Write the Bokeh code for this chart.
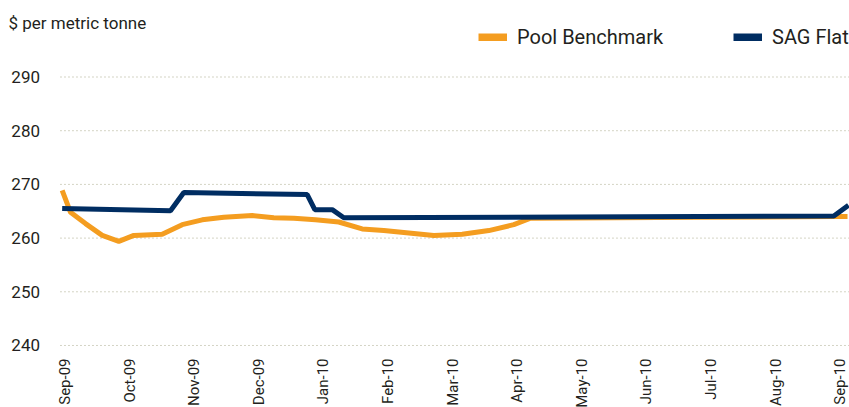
import math
from bokeh.plotting import figure
from bokeh.models import Label, Legend, LegendItem
from bokeh.embed import file_html
from bokeh.resources import INLINE

# ---- data (x = months since Sep-09) ----
month_labels = ["Sep-09", "Oct-09", "Nov-09", "Dec-09", "Jan-10", "Feb-10", "Mar-10",
                "Apr-10", "May-10", "Jun-10", "Jul-10", "Aug-10", "Sep-10"]
month_pos = list(range(len(month_labels)))
y_ticks = [240, 250, 260, 270, 280, 290]

pool_x = [-0.067, 0.062, 0.294, 0.553, 0.810, 1.042, 1.481, 1.791, 2.101, 2.435, 2.875,
          3.209, 3.519, 3.854, 4.215, 4.577, 4.912, 5.686, 6.125, 6.537, 6.924, 7.183,
          9.814, 11.904, 12.09]
pool_y = [268.9, 264.8, 262.7, 260.5, 259.4, 260.5, 260.7, 262.5, 263.4, 263.9, 264.2,
          263.8, 263.7, 263.4, 263.0, 261.7, 261.4, 260.5, 260.7, 261.4, 262.5, 263.7,
          263.9, 264.0, 264.0]

sag_x = [-0.067, 1.610, 1.816, 3.726, 3.844, 4.113, 4.293, 11.878, 12.105]
sag_y = [265.5, 265.1, 268.5, 268.1, 265.3, 265.3, 263.8, 264.1, 266.1]

ORANGE = "#F49D20"
NAVY = "#002D62"
TEXT = "#231F20"
GRID = "#A9A98A"
FONT = "Roboto"

X_START, X_END = -1.0217, 12.1207
Y_START, Y_END = 228.45, 304.25
GRID_X0 = -0.093          # where the dotted grid lines begin

p = figure(width=849, height=407, output_backend="svg", toolbar_location=None,
           x_range=(X_START, X_END), y_range=(Y_START, Y_END),
           min_border=0)
p.outline_line_color = None
p.background_fill_color = "white"
p.border_fill_color = "white"
p.xaxis.visible = False
p.yaxis.visible = False
p.xgrid.grid_line_color = None
p.ygrid.grid_line_color = None

# dotted horizontal grid lines at the tick values
p.segment(x0=[GRID_X0] * len(y_ticks), x1=[X_END] * len(y_ticks), y0=y_ticks, y1=y_ticks,
          line_color=GRID, line_dash="1 3", line_width=1)

# y tick labels
p.text(x=[X_START] * len(y_ticks), y=y_ticks, text=[str(t) for t in y_ticks],
       x_offset=39.5, text_align="right", text_baseline="middle",
       text_font={"value": FONT}, text_font_size={"value": "17px"}, text_color=TEXT)

# x tick labels (rotated, reading upwards, hanging below the 240 line)
p.text(x=month_pos, y=[y_ticks[0]] * len(month_pos), text=month_labels,
       angle=math.pi / 2, x_offset=-1.5, y_offset=13, text_align="right",
       text_baseline="middle",
       text_font={"value": FONT}, text_font_size={"value": "15px"}, text_color=TEXT)

r_pool = p.line(pool_x, pool_y, line_color=ORANGE, line_width=5)
r_sag = p.line(sag_x, sag_y, line_color=NAVY, line_width=5)

# legend swatches (thick)
nan = float("nan")
d_pool = p.line([nan], [nan], line_color=ORANGE, line_width=8)
d_sag = p.line([nan], [nan], line_color=NAVY, line_width=8)
legend = Legend(items=[LegendItem(label="Pool Benchmark", renderers=[d_pool]),
                       LegendItem(label="SAG Flat", renderers=[d_sag])],
                orientation="horizontal", location=(478, 358),
                glyph_width=29, glyph_height=8, label_standoff=10, spacing=66,
                label_width=150,
                padding=0, margin=0, border_line_color=None, background_fill_alpha=0,
                label_text_font=FONT, label_text_font_size="20px", label_text_color=TEXT)
p.add_layout(legend, "center")

title = Label(x=8, y=384.6, x_units="screen", y_units="screen",
              text="$ per metric tonne", text_font=FONT, text_font_size="17px",
              text_color=TEXT, text_baseline="middle")
p.add_layout(title)

open("out.html", "w").write(file_html(p, INLINE))
